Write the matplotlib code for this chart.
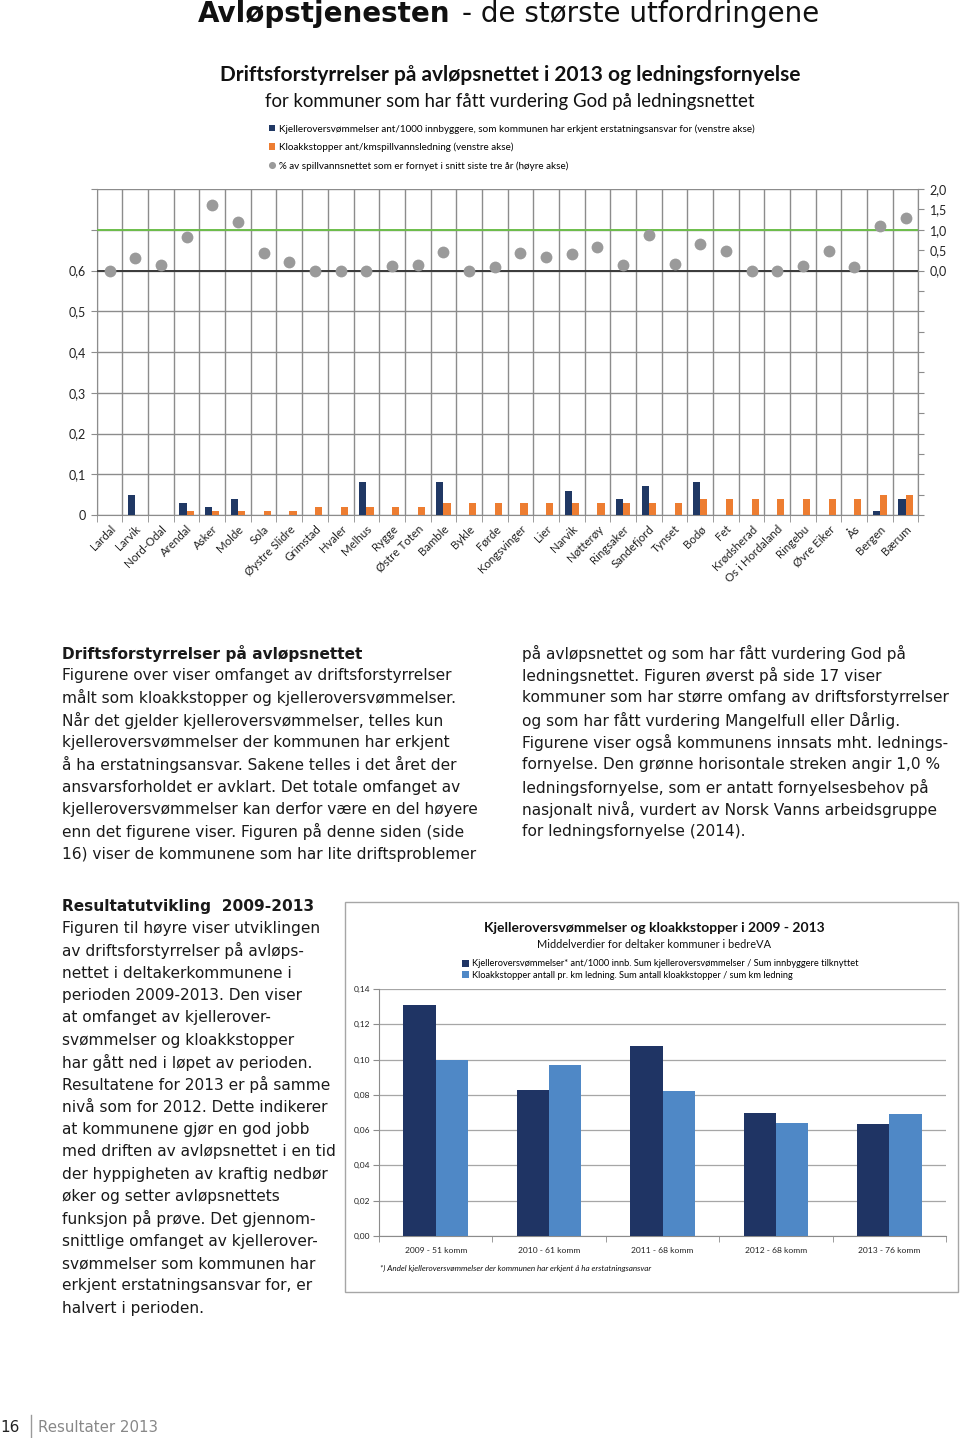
import numpy as np
import matplotlib
matplotlib.use("Agg")
import matplotlib.pyplot as plt
from matplotlib.patches import Rectangle
from matplotlib.lines import Line2D
from matplotlib.ticker import FixedLocator, FuncFormatter

# ---------------- data ----------------
kommuner = ["Lardal", "Larvik", "Nord-Odal", "Arendal", "Asker", "Molde", "Sola",
            "Øystre Slidre", "Grimstad", "Hvaler", "Melhus", "Rygge", "Østre Toten",
            "Bamble", "Bykle", "Førde", "Kongsvinger", "Lier", "Narvik", "Nøtterøy",
            "Ringsaker", "Sandefjord", "Tynset", "Bodø", "Fet", "Krødsherad",
            "Os i Hordaland", "Ringebu", "Øvre Eiker", "Ås", "Bergen", "Bærum"]
kjeller = [0, 0.05, 0, 0.03, 0.02, 0.04, 0, 0, 0, 0, 0.08, 0, 0, 0.08, 0, 0,
           0, 0, 0.06, 0, 0.04, 0.07, 0, 0.08, 0, 0, 0, 0, 0, 0, 0.01, 0.04]
kloakk = [0, 0, 0, 0.01, 0.01, 0.01, 0.01, 0.01, 0.02, 0.02, 0.02, 0.02, 0.02,
          0.03, 0.03, 0.03, 0.03, 0.03, 0.03, 0.03, 0.03, 0.03, 0.03, 0.04, 0.04,
          0.04, 0.04, 0.04, 0.04, 0.04, 0.05, 0.05]
fornyet = [0.0, 0.31, 0.13, 0.83, 1.6, 1.2, 0.42, 0.2, 0.0, 0.0, 0.0, 0.12, 0.13,
           0.45, 0.0, 0.09, 0.44, 0.34, 0.41, 0.57, 0.13, 0.87, 0.17, 0.66, 0.49,
           0.0, 0.0, 0.12, 0.48, 0.09, 1.1, 1.3]
fornyelsesbehov = 1.0

aar = ["2009 - 51 komm", "2010 - 61 komm", "2011 - 68 komm", "2012 - 68 komm", "2013 - 76 komm"]
kjeller_aar = [0.131, 0.083, 0.1075, 0.070, 0.0635]
kloakk_aar = [0.100, 0.097, 0.082, 0.064, 0.069]

left_ticks = [0, 0.1, 0.2, 0.3, 0.4, 0.5, 0.6, 0.7, 0.8]
left_labels = ["0", "0,1", "0,2", "0,3", "0,4", "0,5", "0,6", "", ""]
right_labels = {0.0: "0,0", 0.5: "0,5", 1.0: "1,0", 1.5: "1,5", 2.0: "2,0"}
bottom_ticks = [0, 0.02, 0.04, 0.06, 0.08, 0.10, 0.12, 0.14]

# ---------------- layout helpers ----------------
W, H = 960, 1438
fig = plt.figure(figsize=(W / 100, H / 100), dpi=100)
fig.patch.set_facecolor("white")


def rect(x0, y0, x1, y1):
    return [x0 / W, 1 - y1 / H, (x1 - x0) / W, (y1 - y0) / H]


def fx(x):
    return x / W


def fy(y):
    return 1 - y / H


BODY = "DejaVu Sans"
CH = "Lato"
NAVY = "#203864"
ORANGE = "#ED7D31"
GREY_DOT = "#9A9A9A"
GRID = "#8C8C8C"

# ---------------- page title ----------------
fig.text(fx(198), fy(22), "Avløpstjenesten", fontsize=20, fontweight="bold",
         family=BODY, color="#111111", va="baseline", ha="left")
fig.text(fx(462), fy(22), "- de største utfordringene", fontsize=20,
         family=BODY, color="#111111", va="baseline", ha="left")

# ---------------- top chart ----------------
fig.text(fx(510), fy(75), "Driftsforstyrrelser på avløpsnettet i 2013 og ledningsfornyelse",
         fontsize=15, fontweight="bold", family=CH, ha="center", va="center", color="#111111")
fig.text(fx(510), fy(102), "for kommuner som har fått vurdering God på ledningsnettet",
         fontsize=13.4, family=CH, ha="center", va="center", color="#111111")

ax = fig.add_axes(rect(96.7, 189, 918.5, 515))
x = np.arange(len(kommuner))
b1 = ax.bar(x - 0.14, kjeller, width=0.28, color=NAVY, zorder=3)
b2 = ax.bar(x + 0.14, kloakk, width=0.28, color=ORANGE, zorder=3)
ax.set_xlim(-0.5, len(kommuner) - 0.5)
ax.set_ylim(0, 0.8)
ax.set_yticks(left_ticks)
ax.set_yticklabels(left_labels, family=CH, fontsize=9, color="#222222")
ax.tick_params(axis="y", length=4, color=GRID, pad=4)
ax.set_xticks(x)
ax.set_xticklabels(kommuner, rotation=45, ha="right", va="top", rotation_mode="anchor",
                   family=CH, fontsize=8.3, color="#222222")
ax.tick_params(axis="x", which="major", length=0, pad=6)
ax.xaxis.set_minor_locator(FixedLocator(np.arange(-0.5, len(kommuner), 1.0)))
ax.tick_params(axis="x", which="minor", length=5, color=GRID)
ax.grid(axis="y", which="major", color=GRID, lw=1.0, zorder=0)
ax.grid(axis="x", which="minor", color=GRID, lw=1.0, zorder=0)
ax.set_axisbelow(True)
for s in ax.spines.values():
    s.set_color(GRID)
ax.spines["top"].set_visible(False)

ax2 = ax.twinx()
ax2.set_ylim(-6, 2)
ax2.axhline(fornyelsesbehov, color="#6DBE4B", lw=1.4, zorder=2)
ax2.axhline(0, color="#3A3A3A", lw=1.4, zorder=2)
d1, = ax2.plot(x, fornyet, "o", color=GREY_DOT, ms=8.5, zorder=4, mec="none")
ax2.set_yticks(np.arange(-6, 2.01, 0.5))
ax2.yaxis.set_major_formatter(FuncFormatter(lambda v, p: right_labels.get(round(v, 1), "")))
ax2.tick_params(axis="y", length=4, color=GRID, labelsize=9, labelcolor="#222222", pad=4)
for lab in ax2.get_yticklabels():
    lab.set_family(CH)
for s in ax2.spines.values():
    s.set_visible(False)
ax2.spines["right"].set_visible(True)
ax2.spines["right"].set_color(GRID)

fig.legend([b1, b2, d1],
           ["Kjelleroversvømmelser ant/1000 innbyggere, som kommunen har erkjent erstatningsansvar for (venstre akse)",
            "Kloakkstopper ant/kmspillvannsledning (venstre akse)",
            "% av spillvannsnettet som er fornyet i snitt siste tre år (høyre akse)"],
           loc="upper left", bbox_to_anchor=(fx(269), fy(124)), frameon=False,
           prop={"family": CH, "size": 7.1}, handlelength=0.65, handleheight=0.65,
           handletextpad=0.35, labelspacing=0.92, borderpad=0, borderaxespad=0,
           markerscale=0.6)

# ---------------- text blocks ----------------
TXT = "#1a1a1a"
FS = 11.1
LS = 22.35
left1 = ["Figurene over viser omfanget av driftsforstyrrelser",
         "målt som kloakkstopper og kjelleroversvømmelser.",
         "Når det gjelder kjelleroversvømmelser, telles kun",
         "kjelleroversvømmelser der kommunen har erkjent",
         "å ha erstatningsansvar. Sakene telles i det året der",
         "ansvarsforholdet er avklart. Det totale omfanget av",
         "kjelleroversvømmelser kan derfor være en del høyere",
         "enn det figurene viser. Figuren på denne siden (side",
         "16) viser de kommunene som har lite driftsproblemer"]
right1 = ["på avløpsnettet og som har fått vurdering God på",
          "ledningsnettet. Figuren øverst på side 17 viser",
          "kommuner som har større omfang av driftsforstyrrelser",
          "og som har fått vurdering Mangelfull eller Dårlig.",
          "Figurene viser også kommunens innsats mht. lednings-",
          "fornyelse. Den grønne horisontale streken angir 1,0 %",
          "ledningsfornyelse, som er antatt fornyelsesbehov på",
          "nasjonalt nivå, vurdert av Norsk Vanns arbeidsgruppe",
          "for ledningsfornyelse (2014)."]
left2 = ["Figuren til høyre viser utviklingen",
         "av driftsforstyrrelser på avløps-",
         "nettet i deltakerkommunene i",
         "perioden 2009-2013. Den viser",
         "at omfanget av kjellerover-",
         "svømmelser og kloakkstopper",
         "har gått ned i løpet av perioden.",
         "Resultatene for 2013 er på samme",
         "nivå som for 2012. Dette indikerer",
         "at kommunene gjør en god jobb",
         "med driften av avløpsnettet i en tid",
         "der hyppigheten av kraftig nedbør",
         "øker og setter avløpsnettets",
         "funksjon på prøve. Det gjennom-",
         "snittlige omfanget av kjellerover-",
         "svømmelser som kommunen har",
         "erkjent erstatningsansvar for, er",
         "halvert i perioden."]

fig.text(fx(62), fy(653), "Driftsforstyrrelser på avløpsnettet", fontsize=FS, fontweight="bold",
         family=BODY, color=TXT, va="center")
for i, line in enumerate(left1):
    fig.text(fx(62), fy(653 + LS * (i + 1)), line, fontsize=FS, family=BODY, color=TXT, va="center")
for i, line in enumerate(right1):
    fig.text(fx(522), fy(653 + LS * i), line, fontsize=FS, family=BODY, color=TXT, va="center")
fig.text(fx(62), fy(906), "Resultatutvikling  2009-2013", fontsize=FS, fontweight="bold",
         family=BODY, color=TXT, va="center")
for i, line in enumerate(left2):
    fig.text(fx(62), fy(906 + LS * (i + 1)), line, fontsize=FS, family=BODY, color=TXT, va="center")

# ---------------- bottom chart ----------------
fig.add_artist(Rectangle((fx(345), fy(1292)), (958 - 345) / W, (1292 - 902) / H,
                         transform=fig.transFigure, fill=False, edgecolor="#A6A6A6", lw=1.0))
fig.text(fx(654), fy(928), "Kjelleroversvømmelser og kloakkstopper i 2009 - 2013",
         fontsize=10, fontweight="bold", family=CH, ha="center", va="center", color="#111111")
fig.text(fx(654), fy(945), "Middelverdier for deltaker kommuner i bedreVA",
         fontsize=7.9, family=CH, ha="center", va="center", color="#111111")

ax3 = fig.add_axes(rect(379, 989, 946, 1236))
xa = np.arange(len(aar))
c1 = ax3.bar(xa - 0.1425, kjeller_aar, width=0.285, color="#1F3464", zorder=3)
c2 = ax3.bar(xa + 0.1425, kloakk_aar, width=0.285, color="#4F88C6", zorder=3)
ax3.set_xlim(-0.5, len(aar) - 0.5)
ax3.set_ylim(0, 0.14)
ax3.set_yticks(bottom_ticks)
ax3.set_yticklabels([f"{v:.2f}".replace(".", ",") for v in bottom_ticks],
                    family=CH, fontsize=6, color="#222222")
ax3.tick_params(axis="y", length=4, color=GRID, pad=2)
ax3.set_xticks(xa)
ax3.set_xticklabels(aar, family=CH, fontsize=6.1, color="#222222")
ax3.tick_params(axis="x", which="major", length=0, pad=8)
ax3.xaxis.set_minor_locator(FixedLocator(np.arange(-0.5, len(aar), 1.0)))
ax3.tick_params(axis="x", which="minor", length=4, color=GRID)
ax3.grid(axis="y", color="#A6A6A6", lw=0.9, zorder=0)
ax3.set_axisbelow(True)
for side in ("top", "right"):
    ax3.spines[side].set_visible(False)
for side in ("left", "bottom"):
    ax3.spines[side].set_color(GRID)

fig.legend([c1, c2],
           ["Kjelleroversvømmelser* ant/1000 innb. Sum kjelleroversvømmelser / Sum innbyggere tilknyttet",
            "Kloakkstopper antall pr. km ledning. Sum antall kloakkstopper / sum km ledning"],
           loc="upper left", bbox_to_anchor=(fx(462), fy(959.5)), frameon=False,
           prop={"family": CH, "size": 6.7}, handlelength=0.7, handleheight=0.7,
           handletextpad=0.35, labelspacing=0.22, borderpad=0, borderaxespad=0)

fig.text(fx(380), fy(1268), "*) Andel kjelleroversvømmelser der kommunen har erkjent å ha erstatningsansvar",
         fontsize=5.9, style="italic", family=CH, color="#111111", va="center")

# ---------------- footer ----------------
fig.text(fx(0), fy(1427), "16", fontsize=11, family=BODY, color="#222222", va="center")
fig.add_artist(Line2D([fx(31), fx(31)], [fy(1415), fy(1438)], transform=fig.transFigure,
                      color="#9A9A9A", lw=1))
fig.text(fx(38), fy(1427), "Resultater 2013", fontsize=10.8, family=BODY, color="#888888", va="center")

fig.savefig("out.png", dpi=100, facecolor="white")
